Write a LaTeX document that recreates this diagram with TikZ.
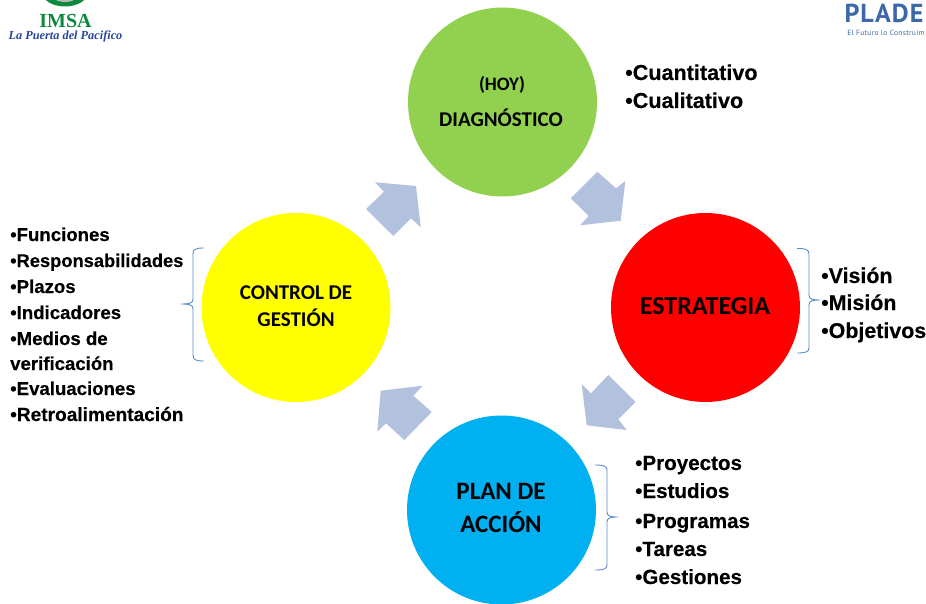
\documentclass[tikz,border=0pt]{standalone}
\usepackage{fontspec}
\setmainfont{Liberation Sans}
\newfontfamily\itemfont[FakeBold=0.35]{Liberation Sans Bold}
\newfontfamily\carl{Carlito}
\newfontfamily\logoserif{Liberation Serif}
\newfontfamily\logocond[LetterSpace=4]{PT Sans}
\definecolor{cgreen}{HTML}{92D050}
\definecolor{cblue}{HTML}{00B0F0}
\definecolor{cyellow}{HTML}{FFFF00}
\definecolor{cred}{HTML}{FF0000}
\definecolor{carrow}{HTML}{B1C1DE}
\definecolor{cbrace}{HTML}{5B8BC9}
\definecolor{imsagreen}{HTML}{0B8A3E}
\definecolor{imsablue}{HTML}{27459B}
\definecolor{pladeblue}{HTML}{3C67A8}
\tikzset{
  x=1pt,y=-1pt,
  phase/.style={circle,minimum size=189pt,inner sep=0pt,align=center,text=black},
  flowarrow/.style={fill=carrow,draw=none},
  bracket/.style={draw=cbrace,line width=0.9pt,line join=round},
  item/.style={anchor=base west,inner sep=0pt,text=black},
  itemtop/.style={item,font=\itemfont\fontsize{21.6}{22}\selectfont},
  itemright/.style={item,font=\itemfont\fontsize{21.4}{22}\selectfont},
  itemplan/.style={item,font=\itemfont\fontsize{20.6}{21}\selectfont},
  itemleft/.style={item,font=\itemfont\fontsize{18.6}{19}\selectfont},
}
\begin{document}
\begin{tikzpicture}
\useasboundingbox (0,0) rectangle (926,604);
\path[clip] (0,0) rectangle (926,604);
% circles
\node[phase,fill=cgreen] (diag) at (502.5,102) {};
\node[phase,fill=cred] (estr) at (705.5,307.5) {};
\node[phase,fill=cblue] (plan) at (501.5,510) {};
\node[phase,fill=cyellow] (ctrl) at (296,307.5) {};
\node[inner sep=0pt,font=\carl\bfseries\fontsize{19}{19}\selectfont] (diag1) at (502,85) {(HOY)};
\node[inner sep=0pt,font=\carl\bfseries\fontsize{21}{21}\selectfont] (diag2) at (501,118) {DIAGNÓSTICO};
\node[inner sep=0pt,font=\carl\bfseries\fontsize{26}{26}\selectfont] (estr1) at (705,306) {ESTRATEGIA};
\node[inner sep=0pt,font=\carl\bfseries\fontsize{25}{25}\selectfont] (plan1) at (501,491) {PLAN DE};
\node[inner sep=0pt,font=\carl\bfseries\fontsize{25}{25}\selectfont] (plan2) at (501,522) {ACCIÓN};
\node[inner sep=0pt,font=\carl\bfseries\fontsize{21}{21}\selectfont] (ctrl1) at (296,293) {CONTROL DE};
\node[inner sep=0pt,font=\carl\bfseries\fontsize{21}{21}\selectfont] (ctrl2) at (296,318) {GESTIÓN};
% arrows
\fill[flowarrow] (375,182.3)--(416,186)--(420.7,227.3)--(411,218.3)--(393.3,236)--(366,209)--(384,191.7)--cycle;
\fill[flowarrow] (597.3,171.7)--(616,188.3)--(625.3,181)--(620.7,220.7)--(580,225.3)--(588.7,216)--(570.7,198.3)--cycle;
\fill[flowarrow] (608.3,375)--(635.7,402)--(618.3,419.3)--(626.7,430)--(586.7,425.3)--(581.7,384)--(591,393.3)--cycle;
\fill[flowarrow] (380.7,390.7)--(422.7,385.7)--(413.3,395.7)--(431.7,412)--(404.3,440)--(386,423.3)--(377.3,431.7)--cycle;
% brackets
\draw[bracket] (797,248.5) .. controls (805,248.5) and (809,249) .. (809,254) -- (809,295) .. controls (809,299) and (812,300) .. (820,300) .. controls (812,300) and (809,301) .. (809,305) -- (809,348) .. controls (809,352) and (805,353) .. (797,353);
\draw[bracket] (204,248) .. controls (196,248) and (193,249) .. (193,254) -- (193,299) .. controls (193,303) and (190,304) .. (181,304) .. controls (190,304) and (193,305) .. (193,309) -- (193,355) .. controls (193,360) and (196,361) .. (204,361);
\draw[bracket] (595,465) .. controls (603,465) and (607,466) .. (607,470) -- (607,512) .. controls (607,516) and (610,517) .. (618,517) .. controls (610,517) and (607,518) .. (607,522) -- (607,565) .. controls (607,569) and (603,570) .. (595,570);
% lists
\node[itemtop] (q1) at (625,80) {•Cuantitativo};
\node[itemtop] (q2) at (625,108) {•Cualitativo};
\node[itemright] (e1) at (821,283) {•Visión};
\node[itemright] (e2) at (821,310) {•Misión};
\node[itemright] (e3) at (821,338) {•Objetivos};
\node[itemplan] (p1) at (635,470) {•Proyectos};
\node[itemplan] (p2) at (635,498) {•Estudios};
\node[itemplan] (p3) at (635,528) {•Programas};
\node[itemplan] (p4) at (635,556) {•Tareas};
\node[itemplan] (p5) at (635,584) {•Gestiones};
\node[itemleft] (c1) at (10,241) {•Funciones};
\node[itemleft,font=\itemfont\fontsize{18.3}{19}\selectfont] (c2) at (10,267) {•Responsabilidades};
\node[itemleft] (c3) at (10,293) {•Plazos};
\node[itemleft] (c4) at (10,319) {•Indicadores};
\node[itemleft] (c5) at (10,345) {•Medios de};
\node[itemleft] (c6) at (10,370) {verificación};
\node[itemleft] (c7) at (10,395) {•Evaluaciones};
\node[itemleft,font=\itemfont\fontsize{19.1}{19}\selectfont] (c8) at (10,421) {•Retroalimentación};
% logos
\fill[imsagreen] (65,-8) ellipse (23 and 14.5);
\fill[gray!55] (65,-8) ellipse (15 and 10);
\node[anchor=base,inner sep=0pt,text=imsagreen,font=\logoserif\fontsize{20}{20}\selectfont\bfseries] (imsa) at (65.5,27.5) {IMSA};
\node[anchor=base,inner sep=0pt,text=imsablue,font=\logoserif\fontsize{12.3}{12.3}\selectfont\bfseries\itshape] (lema) at (65.5,39.5) {La Puerta del Pacifico};
\node[anchor=base,inner sep=0pt,text=pladeblue,font=\logocond\fontsize{26}{26}\selectfont\bfseries] (plade) at (884,23) {PLADE};
\node[anchor=base,inner sep=0pt,text=pladeblue,font=\logocond\fontsize{7.5}{7.5}\selectfont] (lema2) at (886,36) {El Futuro lo Construim};
\end{tikzpicture}
\end{document}
